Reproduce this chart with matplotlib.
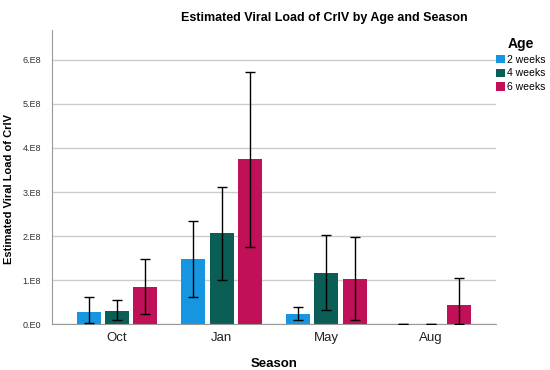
import numpy as np
import matplotlib.pyplot as plt

plt.rcParams['font.family'] = ['Liberation Sans', 'DejaVu Sans']

# Data (values in units of 1E8)
seasons = ['Oct', 'Jan', 'May', 'Aug']
ages = ['2 weeks', '4 weeks', '6 weeks']
colors = ['#1696E0', '#0B5E55', '#BF1058']

means = [
    [0.27, 1.48, 0.23, 0.0],   # 2 weeks
    [0.30, 2.07, 1.16, 0.0],   # 4 weeks
    [0.84, 3.75, 1.02, 0.43],  # 6 weeks
]
err_low = [
    [0.02, 0.61, 0.09, 0.0],
    [0.09, 1.00, 0.31, 0.0],
    [0.23, 1.75, 0.09, 0.0],
]
err_high = [
    [0.61, 2.34, 0.39, 0.0],
    [0.55, 3.11, 2.02, 0.0],
    [1.48, 5.73, 1.98, 1.05],
]
yticks = [0, 1, 2, 3, 4, 5, 6]
ytick_labels = ['0.E0', '1.E8', '2.E8', '3.E8', '4.E8', '5.E8', '6.E8']

fig = plt.figure(figsize=(5.5, 3.7), dpi=100)
ax = fig.add_axes([0.0945, 0.124, 0.8075, 0.795])

x = np.arange(len(seasons))
width = 0.23
step = 0.27
for i, age in enumerate(ages):
    m = np.array(means[i]) * 1e8
    lo = m - np.array(err_low[i]) * 1e8
    hi = np.array(err_high[i]) * 1e8 - m
    ax.bar(x + (i - 1) * step, m, width, color=colors[i], label=age, zorder=2)
    ax.errorbar(x + (i - 1) * step, m, yerr=[lo, hi], fmt='none', ecolor='black',
                elinewidth=1, capsize=3.5, capthick=1, zorder=3)

ax.set_xlim(-0.62, 3.62)
ax.set_ylim(0, 6.68e8)
ax.set_yticks([v * 1e8 for v in yticks])
ax.set_yticklabels(ytick_labels, fontsize=6.5, color='#333333')
ax.set_xticks(x)
ax.set_xticklabels(seasons, fontsize=9.5, color='#222222')
ax.tick_params(axis='y', length=0, pad=8)
ax.tick_params(axis='x', length=0, pad=6)
ax.yaxis.grid(True, color='#cccccc', linewidth=1, zorder=0)
ax.set_axisbelow(True)
for s in ['top', 'right']:
    ax.spines[s].set_visible(False)
for s in ['left', 'bottom']:
    ax.spines[s].set_color('#999999')

ax.set_xlabel('Season', fontsize=9.5, fontweight='bold', labelpad=10)
ax.set_ylabel('Estimated Viral Load of CrIV', fontsize=8, fontweight='bold')
ax.yaxis.set_label_coords(-0.086, 0.46)
fig.text(0.59, 0.952, 'Estimated Viral Load of CrIV by Age and Season',
         ha='center', va='center', fontsize=9, fontweight='bold')

leg = ax.legend(title='Age', loc='upper left', bbox_to_anchor=(0.99, 0.99),
                frameon=False, fontsize=7.5, handlelength=0.85, handleheight=0.85,
                handletextpad=0.2, labelspacing=0.35, borderaxespad=0)
leg.get_title().set_fontweight('bold')
leg.get_title().set_fontsize(10)

fig.savefig('out.png', dpi=100)
